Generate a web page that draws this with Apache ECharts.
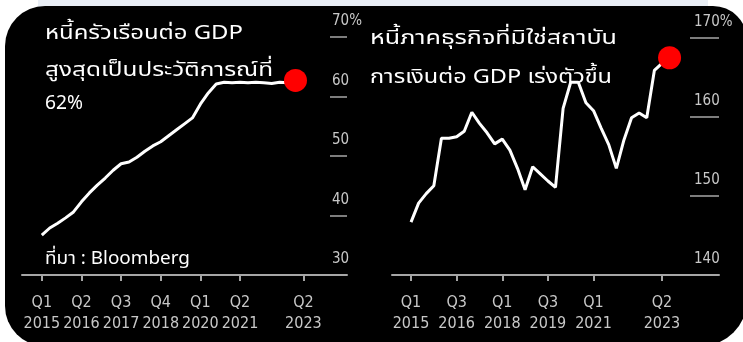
<!DOCTYPE html>
<html>
<head>
<meta charset="utf-8">
<script src="https://cdn.jsdelivr.net/npm/echarts@6/dist/echarts.min.js"></script>
<style>
html,body{margin:0;padding:0;background:#ffffff;}
#c{width:743px;height:342px;}
</style>
</head>
<body>
<div id="c"></div>
<script>
// ---------- data ----------
// Household debt to GDP (%), quarterly from Q1 2015
const leftValues = [36.7, 37.9, 38.7, 39.6, 40.6, 42.3, 43.8, 45.1, 46.3, 47.6,
  48.7, 49.0, 49.8, 50.8, 51.7, 52.4, 53.4, 54.4, 55.4, 56.4,
  58.7, 60.6, 62.1, 62.4, 62.3, 62.4, 62.3, 62.4, 62.3, 62.2,
  62.4, 62.3, 62.7];
// Non-financial corporate debt to GDP (%), quarterly from Q1 2015
const rightValues = [146.7, 149.1, 150.3, 151.3, 157.3, 157.3, 157.5, 158.2, 160.6, 159.2,
  158.0, 156.6, 157.2, 155.8, 153.5, 150.8, 153.7, 152.8, 151.9, 151.1,
  161.1, 164.4, 164.4, 161.8, 160.8, 158.6, 156.5, 153.5, 157.1, 159.9,
  160.5, 159.9, 165.9, 166.8, 167.5];
// tick positions (quarter index from Q1 2015) and labels
const leftTickIdx = [0, 5, 10, 15, 20, 25, 33];
const leftTickLabels = ['Q1\n2015','Q2\n2016','Q3\n2017','Q4\n2018','Q1\n2020','Q2\n2021','Q2\n2023'];
const rightTickIdx = [0, 6, 12, 18, 24, 33];
const rightTickLabels = ['Q1\n2015','Q3\n2016','Q1\n2018','Q3\n2019','Q1\n2021','Q2\n2023'];
const leftTitle = ['หนี้ครัวเรือนต่อ GDP', 'สูงสุดเป็นประวัติการณ์ที่', '62%'];
const rightTitle = ['หนี้ภาคธุรกิจที่มิใช่สถาบัน', 'การเงินต่อ GDP เร่งตัวขึ้น'];
const sourceText = 'ที่มา : Bloomberg';

// ---------- helpers ----------
function qName(i){ // i = quarters from Q1 2015
  const y = 2015 + Math.floor(i/4);
  const q = ((i % 4) + 4) % 4 + 1;
  return 'Q' + q + '\n' + y;
}
function cats(from, to){ const a=[]; for(let i=from;i<=to;i++) a.push(qName(i)); return a; }
const leftCats = cats(-2, 38);
const rightCats = cats(-2, 40);
const OFF = 2;
const leftShow = leftTickIdx.map(i => i + OFF);
const rightShow = rightTickIdx.map(i => i + OFF);
const leftLabelMap = {}; leftTickIdx.forEach((t,k)=>leftLabelMap[t+OFF]=leftTickLabels[k]);
const rightLabelMap = {}; rightTickIdx.forEach((t,k)=>rightLabelMap[t+OFF]=rightTickLabels[k]);

const axisFont = "'Liberation Sans Narrow','DejaVu Sans Condensed','Roboto Condensed',sans-serif";
const thaiFont = "'Noto Sans Thai','Noto Sans','Tahoma',sans-serif";
const GRAY = '#a6a6a6';
const LGRAY = '#c8c8c8';

const mctx = document.createElement('canvas').getContext('2d');
function fitText(text, font, left, midY, targetW){
  mctx.font = font;
  const w = mctx.measureText(text).width || targetW;
  return {type:'text', z:100, x:left, y:midY, scaleX: targetW / w, scaleY: 1,
    style:{text:text, x:0, y:0, fill:'#ffffff', font:font, align:'left', verticalAlign:'middle'}};
}

function xAxisCfg(gi, catList, showList, labelMap){
  return {
    type:'category', gridIndex:gi, data:catList, boundaryGap:true,
    axisLine:{show:true, lineStyle:{color:GRAY, width:2}},
    axisTick:{show:true, alignWithLabel:true, length:6, lineStyle:{color:GRAY, width:2},
      interval:(idx)=>showList.indexOf(idx)>=0},
    axisLabel:{show:true, interval:(idx)=>showList.indexOf(idx)>=0,
      formatter:(v, idx)=>labelMap[idx] || '',
      color:LGRAY, fontFamily:axisFont, fontSize:16, lineHeight:21, margin:17},
    splitLine:{show:false}
  };
}
function yAxisCfg(gi, min, max, tickLen, margin, topVal){
  return {
    type:'value', gridIndex:gi, position:'right', min:min, max:max, interval:10,
    axisLine:{show:false},
    axisTick:{show:true, inside:true, length:tickLen, lineStyle:{color:GRAY, width:1.5}},
    axisLabel:{show:true, inside:true, align:'left', margin:margin, verticalAlign:'bottom',
      padding:[0,0,8,0], color:LGRAY, fontFamily:axisFont, fontSize:15,
      formatter:(v)=> v===topVal ? v+'%' : String(v)},
    splitLine:{show:false}
  };
}

const chart = echarts.init(document.getElementById('c'), null, {renderer:'canvas'});

const titleFont = "20px " + thaiFont;
const graphics = [
  {type:'rect', z:-100, shape:{x:0,y:0,width:743,height:342}, style:{fill:'#ffffff'}},
  {type:'rect', z:-99, shape:{x:38,y:0,width:670,height:7}, style:{fill:'#e9eef5'}},
  {type:'rect', z:-98, shape:{x:5,y:6,width:742,height:340,r:[40,34,46,40]}, style:{fill:'#000000'}},
  fitText(leftTitle[0], titleFont, 45, 35, 198),
  fitText(leftTitle[1], titleFont, 45, 72, 228),
  fitText(leftTitle[2], "19px " + thaiFont, 45, 105, 38),
  fitText(rightTitle[0], titleFont, 370, 40, 247),
  fitText(rightTitle[1], titleFont, 370, 79, 242),
  fitText(sourceText, "18px " + thaiFont, 45, 260, 145)
];

const option = {
  animation:false,
  backgroundColor:'transparent',
  graphic: graphics,
  grid:[
    {left:22, top:37, width:325, height:238},
    {left:392, top:38, width:327, height:237}
  ],
  xAxis:[ xAxisCfg(0, leftCats, leftShow, leftLabelMap), xAxisCfg(1, rightCats, rightShow, rightLabelMap) ],
  yAxis:[ yAxisCfg(0, 30, 70, 17, 15, 70), yAxisCfg(1, 140, 170, 29, 25, 170) ],
  series:[
    {type:'line', xAxisIndex:0, yAxisIndex:0, showSymbol:false, symbol:'none',
      lineStyle:{color:'#ffffff', width:3}, z:3,
      data: leftValues.map((v,i)=>[leftCats[i+OFF], v])},
    {type:'scatter', xAxisIndex:0, yAxisIndex:0, symbol:'circle', symbolSize:23, z:5,
      itemStyle:{color:'#ff0000', opacity:1},
      data:[[leftCats[leftValues.length-1+OFF], leftValues[leftValues.length-1]]]},
    {type:'line', xAxisIndex:1, yAxisIndex:1, showSymbol:false, symbol:'none',
      lineStyle:{color:'#ffffff', width:3}, z:3,
      data: rightValues.map((v,i)=>[rightCats[i+OFF], v])},
    {type:'scatter', xAxisIndex:1, yAxisIndex:1, symbol:'circle', symbolSize:23, z:5,
      itemStyle:{color:'#ff0000', opacity:1},
      data:[[rightCats[rightValues.length-1+OFF], rightValues[rightValues.length-1]]]}
  ]
};
chart.setOption(option);
</script>
</body>
</html>
